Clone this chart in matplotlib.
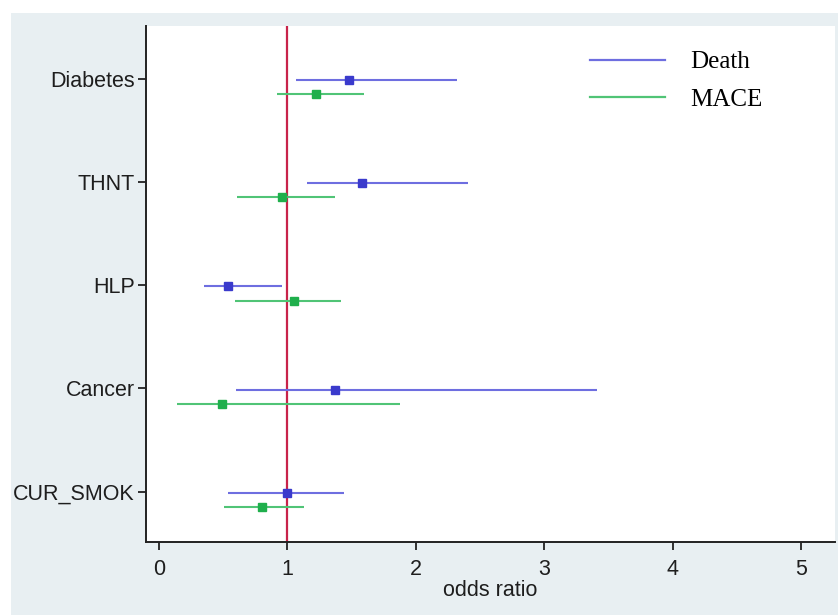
import matplotlib
matplotlib.use("Agg")
import matplotlib.pyplot as plt
from matplotlib.lines import Line2D
from matplotlib.patches import Rectangle
import numpy as np

categories = ["Diabetes", "THNT", "HLP", "Cancer", "CUR_SMOK"]
death_or = [1.48, 1.58, 0.54, 1.37, 1.00]
death_lo = [1.07, 1.15, 0.35, 0.60, 0.54]
death_hi = [2.32, 2.41, 0.96, 3.41, 1.44]
mace_or = [1.22, 0.96, 1.05, 0.49, 0.80]
mace_lo = [0.92, 0.61, 0.59, 0.14, 0.51]
mace_hi = [1.60, 1.37, 1.42, 1.88, 1.13]
xticks = [0, 1, 2, 3, 4, 5]
series_names = ["Death", "MACE"]

W, H = 838, 615
fig = plt.figure(figsize=(W / 100, H / 100), dpi=100)
fig.patch.set_facecolor("white")
fig.patches.append(Rectangle((11 / W, 0), 1 - 11 / W, (H - 13) / H,
                             transform=fig.transFigure, facecolor="#E8EFF2",
                             edgecolor="none", zorder=-10))

ax = fig.add_axes([146 / W, 1 - 542 / H, (835 - 146) / W, (542 - 26) / H])
ax.set_zorder(1)
ax.set_facecolor("white")

sans = ["Liberation Sans", "DejaVu Sans"]
serif = ["Liberation Serif", "DejaVu Serif"]

n = len(categories)
ypos = np.arange(n, 0, -1).astype(float)
off_death = 0.012
off_mace = 0.15

death_line = "#6E6EE0"
death_mk = "#3A3ACC"
mace_line = "#50C476"
mace_mk = "#1FAF4C"

ax.axvline(1, color="#C8234A", lw=1.6, zorder=2)

yd = ypos - off_death
ym = ypos - off_mace
ax.hlines(yd, death_lo, death_hi, color=death_line, lw=1.5, zorder=3)
ax.plot(death_or, yd, ls="none", marker="s", ms=6.2, color=death_mk, zorder=4)
ax.hlines(ym, mace_lo, mace_hi, color=mace_line, lw=1.5, zorder=3)
ax.plot(mace_or, ym, ls="none", marker="s", ms=6.2, color=mace_mk, zorder=4)

ax.set_xlim(-0.1, 5.265)
ax.set_ylim(0.513, 5.51)

ax.set_yticks(ypos)
ax.set_yticklabels(categories, fontfamily=sans, fontsize=15.5, color="#1E1E1E")
ax.set_xticks(xticks)
ax.set_xticklabels([str(t) for t in xticks], fontfamily=sans, fontsize=15.5, color="#1E1E1E")
ax.tick_params(axis="both", direction="out", length=6, width=1.3, color="#222222")
ax.tick_params(axis="y", pad=2)
ax.tick_params(axis="x", pad=6)

for s in ["top", "right"]:
    ax.spines[s].set_visible(False)
for s in ["left", "bottom"]:
    ax.spines[s].set_linewidth(1.4)
    ax.spines[s].set_color("#222222")

ax.set_xlabel("odds ratio", fontfamily=sans, fontsize=15.5, color="#1E1E1E", labelpad=0)

handles = [Line2D([], [], color=death_line, lw=1.6),
           Line2D([], [], color=mace_line, lw=1.6)]
leg = ax.legend(handles, series_names, loc="upper left",
                bbox_to_anchor=((590 - 146) / 689, (542 - 51) / 516),
                frameon=False, prop={"family": serif, "size": 18},
                handlelength=3.0, handletextpad=1.0, labelspacing=0.6,
                borderpad=0, borderaxespad=0)

fig.savefig("out.png", dpi=100, facecolor="white")
